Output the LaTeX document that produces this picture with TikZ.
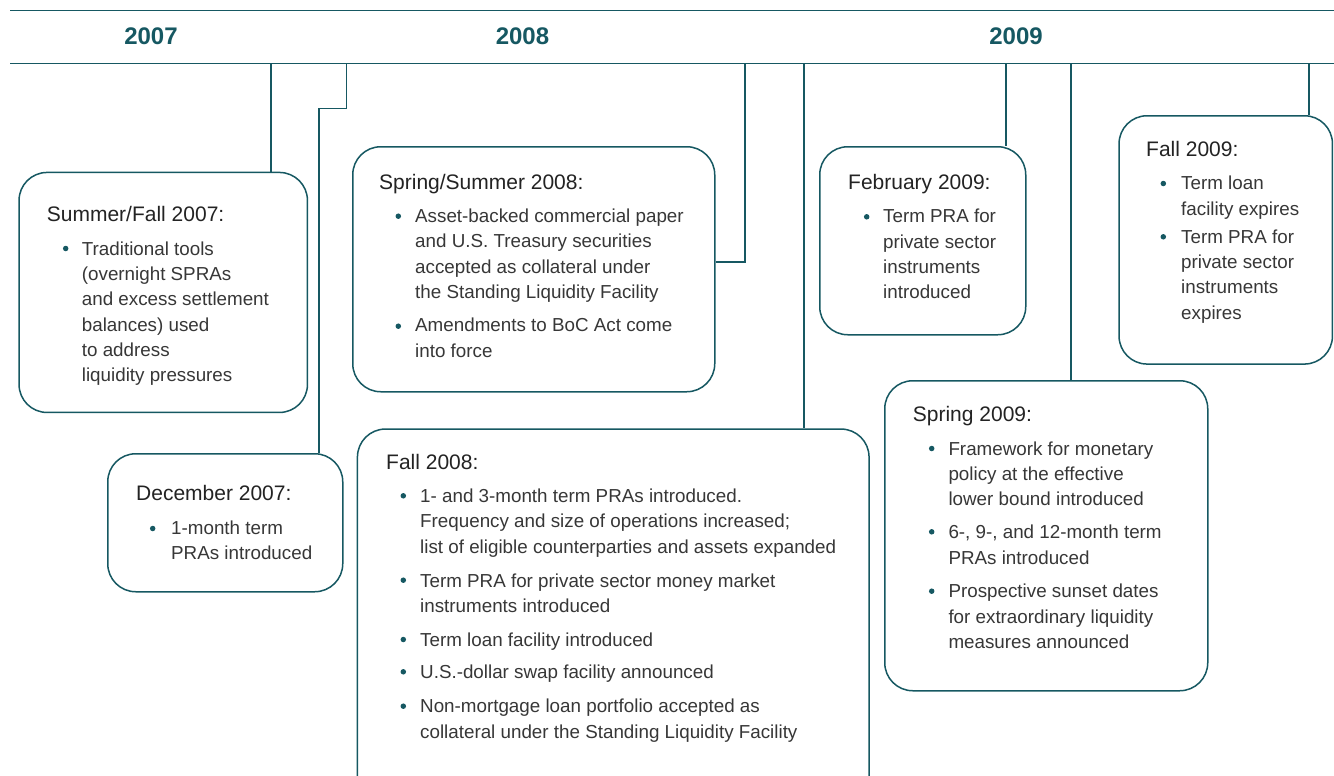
\documentclass[tikz,border=0pt]{standalone}
\usepackage{fontspec}
\setmainfont{Liberation Sans}
\definecolor{teal1}{RGB}{22,88,98}
\definecolor{titlec}{RGB}{35,35,35}
\definecolor{bodyc}{RGB}{55,55,55}
\tikzset{
  evbox/.style={draw=teal1, line width=1.5pt, rounded corners=28pt, anchor=north west, inner sep=0pt, rectangle},
  yearlbl/.style={font=\bfseries\fontsize{24}{28}\selectfont, text=teal1, anchor=base, inner sep=0pt},
  ttl/.style={font=\fontsize{21}{25}\selectfont, text=titlec, anchor=base west, inner sep=0pt},
  bt/.style={font=\fontsize{18.8}{25.3}\selectfont, text=bodyc, anchor=base west, align=left, inner sep=0pt},
  bdot/.style={circle, fill=teal1, inner sep=0pt, minimum size=5.5pt},
  conn/.style={draw=teal1, line width=1.5pt},
  hline/.style={draw=teal1, line width=1.4pt}
}
\begin{document}
\begin{tikzpicture}[x=1pt, y=-1pt]
\useasboundingbox (0,0) rectangle (1334,776);
\clip (0,0) rectangle (1334,776);
\fill[white] (0,0) rectangle (1334,776);
% header
\coordinate (h1l) at (10,10.7); \coordinate (h1r) at (1334,10.7);
\coordinate (h2l) at (10,63.3); \coordinate (h2r) at (1334,63.3);
\draw[hline] (h1l) -- (h1r);
\draw[hline] (h2l) -- (h2r);
\node[yearlbl] (y07) at (151,44.3) {2007};
\node[yearlbl] (y08) at (522.5,44.3) {2008};
\node[yearlbl] (y09) at (1016,44.3) {2009};

% boxes
\node[evbox, minimum width=288.4pt, minimum height=240pt] (b1) at (18.3,171.7) {};
\node[evbox, minimum width=235pt, minimum height=138pt] (b2) at (107,453) {};
\node[evbox, minimum width=362pt, minimum height=245pt] (b3) at (352,146) {};
\node[evbox, minimum width=511.6pt, minimum height=400pt] (b4) at (356.7,428.3) {};
\node[evbox, minimum width=206pt, minimum height=188pt] (b5) at (819,146) {};
\node[evbox, minimum width=323pt, minimum height=310pt] (b6) at (884,380) {};
\node[evbox, minimum width=213.4pt, minimum height=248.3pt] (b7) at (1118.3,115) {};

% connectors
\coordinate (c1) at (271,63.3);
\coordinate (c2) at (346.7,63.3);
\coordinate (c2a) at (346.7,108.7);
\coordinate (c2b) at (319,108.7);
\coordinate (c3) at (745,63.3);
\coordinate (c4) at (804,63.3);
\coordinate (c5) at (1006,63.3);
\coordinate (c6) at (1071,63.3);
\coordinate (c7) at (1309,63.3);
\draw[conn] (c1) -- (c1 |- b1.north);
\draw[conn] (c2) -- (c2a) -- (c2b) -- (c2b |- b2.north);
\draw[conn] (c3) |- ([yshift=7.5pt]b3.east);
\draw[conn] (c4) -- (c4 |- b4.north);
\draw[conn] (c5) -- (c5 |- b5.north);
\draw[conn] (c6) -- (c6 |- b6.north);
\draw[conn] (c7) -- (c7 |- b7.north);

% box 1 (bullet text nodes are placed at the baseline of their last line)
\node[ttl] (t1) at (46.7,221.7) {Summer/Fall 2007:};
\node[bdot] (d1a) at (65.7,248.5) {};
\node[bt] (x1a) at (81.7,381.7) {Traditional tools\\(overnight SPRAs\\and excess settlement\\balances) used\\to address\\liquidity pressures};

% box 2
\node[ttl] (t2) at (136,500) {December 2007:};
\node[bdot] (d2a) at (152.7,528.5) {};
\node[bt] (x2a) at (171,559.8) {1-month term\\PRAs introduced};

% box 3
\node[ttl] (t3) at (379,189.3) {Spring/Summer 2008:};
\node[bdot] (d3a) at (398.3,216.2) {};
\node[bt] (x3a) at (415,298.4) {Asset-backed commercial paper\\and U.S. Treasury securities\\accepted as collateral under\\the Standing Liquidity Facility};
\node[bdot] (d3b) at (398.3,326.2) {};
\node[bt] (x3b) at (415,357.2) {Amendments to BoC Act come\\into force};

% box 4
\node[ttl] (t4) at (386,469) {Fall 2008:};
\node[bdot] (d4a) at (403.3,495.8) {};
\node[bt] (x4a) at (420,553.1) {1- and 3-month term PRAs introduced.\\Frequency and size of operations increased;\\list of eligible counterparties and assets expanded};
\node[bdot] (d4b) at (403.3,580.2) {};
\node[bt] (x4b) at (420,612.3) {Term PRA for private sector money market\\instruments introduced};
\node[bdot] (d4c) at (403.3,639.5) {};
\node[bt] (x4c) at (420,646) {Term loan facility introduced};
\node[bdot] (d4d) at (403.3,671.8) {};
\node[bt] (x4d) at (420,678.3) {U.S.-dollar swap facility announced};
\node[bdot] (d4e) at (403.3,706.2) {};
\node[bt] (x4e) at (420,738.2) {Non-mortgage loan portfolio accepted as\\collateral under the Standing Liquidity Facility};

% box 5
\node[ttl] (t5) at (848,189) {February 2009:};
\node[bdot] (d5a) at (866.7,216.8) {};
\node[bt] (x5a) at (883,298.8) {Term PRA for\\private sector\\instruments\\introduced};

% box 6
\node[ttl] (t6) at (912.7,421.7) {Spring 2009:};
\node[bdot] (d6a) at (931.7,448.5) {};
\node[bt] (x6a) at (948.3,505.7) {Framework for monetary\\policy at the effective\\lower bound introduced};
\node[bdot] (d6b) at (931.7,531.8) {};
\node[bt] (x6b) at (948.3,564) {6-, 9-, and 12-month term\\PRAs introduced};
\node[bdot] (d6c) at (931.7,591.2) {};
\node[bt] (x6c) at (948.3,648.3) {Prospective sunset dates\\for extraordinary liquidity\\measures announced};

% box 7
\node[ttl] (t7) at (1146,156.7) {Fall 2009:};
\node[bdot] (d7a) at (1163.3,183.5) {};
\node[bt] (x7a) at (1181,215.2) {Term loan\\facility expires};
\node[bdot] (d7b) at (1163.3,236.8) {};
\node[bt] (x7b) at (1181,319.2) {Term PRA for\\private sector\\instruments\\expires};
\end{tikzpicture}
\end{document}
